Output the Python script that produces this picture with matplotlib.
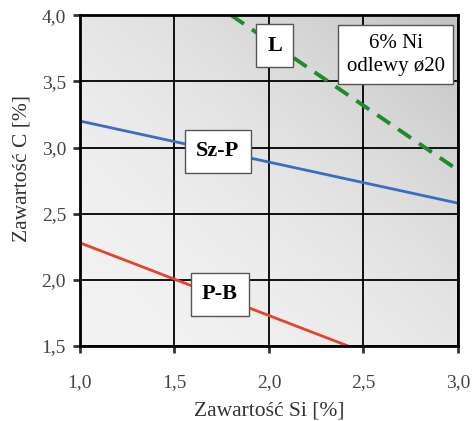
import numpy as np
import matplotlib
matplotlib.use("Agg")
import matplotlib.pyplot as plt
from matplotlib.ticker import FuncFormatter

# Phase boundary lines: Si content [%] vs C content [%]
sz_p_si = [1.0, 3.0]
sz_p_c = [3.20, 2.58]
p_b_si = [1.0, 2.42]
p_b_c = [2.28, 1.50]
l_si = [1.80, 3.0]
l_c = [4.00, 2.83]

x_ticks = [1.0, 1.5, 2.0, 2.5, 3.0]
y_ticks = [1.5, 2.0, 2.5, 3.0, 3.5, 4.0]

plt.rcParams['font.family'] = ['Liberation Serif', 'DejaVu Serif']

fig = plt.figure(figsize=(4.73, 4.21), dpi=100)
ax = fig.add_axes([0.169, 0.178, 0.799, 0.786])

# shaded background, darker towards the upper right
gx, gy = np.meshgrid(np.linspace(0, 1, 200), np.linspace(0, 1, 200))
shade = np.clip(0.5 * gx + 0.5 * gy, 0, 1) ** 2.0
grey = 0.95 - 0.19 * shade
rgb = np.dstack([grey, grey, grey])
ax.imshow(rgb, extent=[0, 1, 0, 1], transform=ax.transAxes, origin='lower',
          aspect='auto', zorder=0, interpolation='bilinear')

ax.set_xlim(1.0, 3.0)
ax.set_ylim(1.5, 4.0)
ax.set_xticks(x_ticks)
ax.set_yticks(y_ticks)
fmt = FuncFormatter(lambda v, p: f"{v:.1f}".replace('.', ','))
ax.xaxis.set_major_formatter(fmt)
ax.yaxis.set_major_formatter(fmt)
ax.grid(True, color='black', linewidth=1.3, zorder=1)
ax.set_axisbelow(False)
for s in ax.spines.values():
    s.set_linewidth(2.0)
    s.set_zorder(5)
ax.tick_params(direction='out', length=5, width=2, labelsize=14,
               colors='#333333')
ax.tick_params(axis='x', pad=15)
ax.tick_params(axis='y', pad=5)
for lbl in ax.get_xticklabels() + ax.get_yticklabels():
    lbl.set_color('#444444')

ax.plot(sz_p_si, sz_p_c, color='#3b6cc4', linewidth=2.0, zorder=3)
ax.plot(p_b_si, p_b_c, color='#e2452b', linewidth=2.0, zorder=3)
ax.plot(l_si, l_c, color='#1f8a2e', linewidth=2.8, linestyle=(0, (4, 2.5)), zorder=3)

box = dict(boxstyle='square,pad=0.5', facecolor='white', edgecolor='#555555', linewidth=1.0)
ax.text(1.73, 2.97, 'Sz-P', fontsize=16, fontweight='bold', ha='center', va='center',
        bbox=box, zorder=4)
ax.text(1.74, 1.89, 'P-B', fontsize=16, fontweight='bold', ha='center', va='center',
        bbox=box, zorder=4)
ax.text(2.03, 3.77, 'L', fontsize=16, fontweight='bold', ha='center', va='center',
        bbox=dict(boxstyle='square,pad=0.5', facecolor='white', edgecolor='#555555', linewidth=1.0),
        zorder=4)
ax.text(2.67, 3.70, '6% Ni\nodlewy ø20', fontsize=15, ha='center', va='center',
        linespacing=1.3, bbox=dict(boxstyle='square,pad=0.4', facecolor='white',
                                   edgecolor='#555555', linewidth=1.0), zorder=4)

ax.set_xlabel('Zawartość Si [%]', fontsize=15.5, color='#333333', labelpad=8)
ax.set_ylabel('Zawartość C [%]', fontsize=15.5, color='#333333')
ax.yaxis.set_label_coords(-0.127, 0.538)

fig.savefig('out.png', dpi=100)
